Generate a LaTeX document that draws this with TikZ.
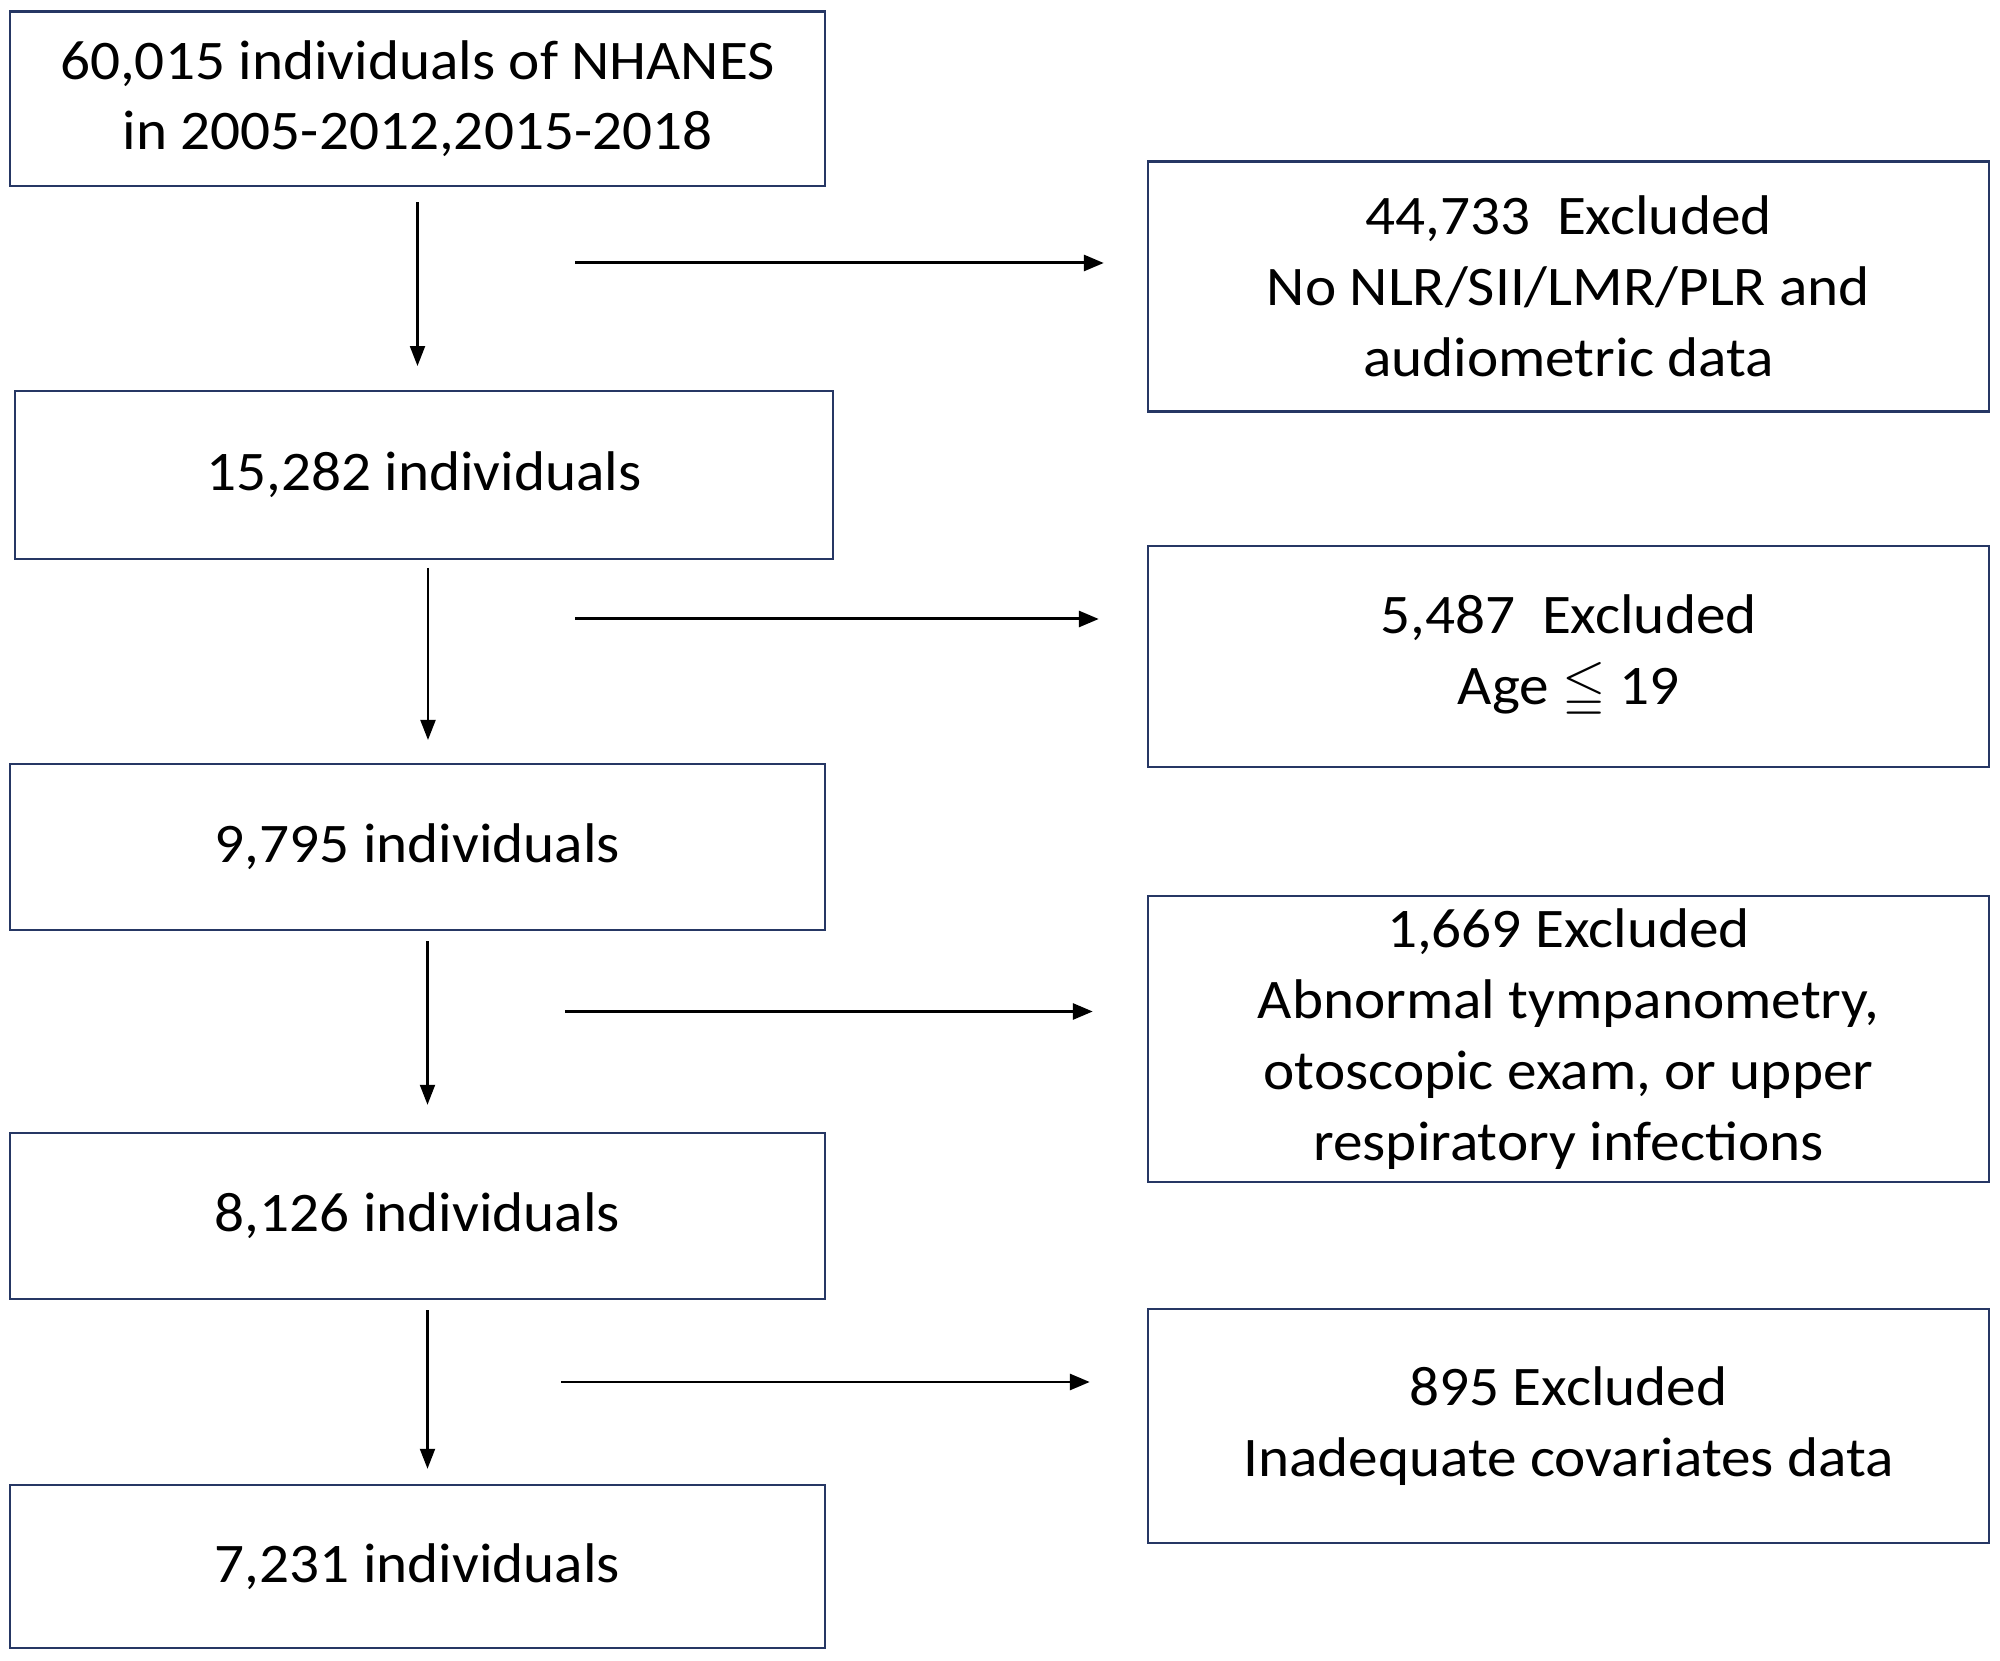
\documentclass[tikz,border=0pt]{standalone}
\usepackage{fontspec}
\usepackage{amssymb}
\setmainfont{Carlito}[FakeStretch=1.06]
\usetikzlibrary{positioning, arrows.meta, calc}

\definecolor{boxnavy}{RGB}{38,55,100}

\begin{document}
\begin{tikzpicture}[
    stage/.style={rectangle, draw=boxnavy, line width=0.7pt, minimum width=8.15cm, align=center, font=\fontsize{15.9}{19.8}\selectfont},
    excl/.style={rectangle, draw=boxnavy, line width=0.7pt, minimum width=8.41cm, align=center, font=\fontsize{15.9}{20.2}\selectfont},
    flow/.style={draw, line width=0.6pt, -{Triangle[length=0.2cm, width=0.15cm]}},
    side/.style={draw, line width=0.85pt, -{Triangle[length=0.2cm, width=0.16cm]}}
]
    \useasboundingbox (0,0) rectangle (20,-16.61);

    % Cohort
    \node[stage, minimum height=1.745cm] (total) at (4.175, -0.9875) {60,015 individuals of NHANES\\in 2005-2012,2015-2018};
    \node[stage, minimum width=8.18cm, minimum height=1.675cm] (afterlab) at (4.24, -4.75) {15,282 individuals};
    \node[stage, minimum height=1.656cm] (adults) at (4.175, -8.47) {9,795 individuals};
    \node[stage, minimum height=1.66cm] (normear) at (4.175, -12.16) {8,126 individuals};
    \node[stage, minimum height=1.63cm] (final) at (4.175, -15.665) {7,231 individuals};

    % Exclusions
    \node[excl, minimum height=2.50cm] (exlab) at (15.685, -2.865) {44,733~~Excluded\\No NLR/SII/LMR/PLR and\\audiometric data};
    \node[excl, minimum height=2.21cm] (exage) at (15.685, -6.565) {5,487~~Excluded\\Age $\leqq$ 19};
    \node[excl, minimum height=2.865cm] (exear) at (15.685, -10.39) {1,669 Excluded\\Abnormal tympanometry,\\otoscopic exam, or upper\\respiratory infections};
    \node[excl, minimum height=2.34cm] (excov) at (15.685, -14.26) {895 Excluded\\Inadequate covariates data};

    % Side arrow starts
    \coordinate (s1) at (5.75, -2.63);
    \coordinate (s2) at (5.75, -6.19);
    \coordinate (s3) at (5.65, -10.115);
    \coordinate (s4) at (5.61, -13.82);

    % Lines
    \draw[flow, shorten <=0.15cm, shorten >=0.24cm] (total.south) -- (total.south |- afterlab.north);
    \draw[flow, shorten <=0.08cm, shorten >=0.23cm] ([xshift=0.4mm]afterlab.south) -- ([xshift=0.4mm]afterlab.south |- adults.north);
    \draw[flow, shorten <=0.10cm, shorten >=0.27cm] ([xshift=1mm]adults.south) -- ([xshift=1mm]adults.south |- normear.north);
    \draw[flow, shorten <=0.10cm, shorten >=0.15cm] ([xshift=1mm]normear.south) -- ([xshift=1mm]normear.south |- final.north);

    \draw[side, shorten >=0.43cm] (s1) -- (s1 -| exlab.west);
    \draw[side, shorten >=0.48cm] (s2) -- (s2 -| exage.west);
    \draw[side, shorten >=0.54cm] (s3) -- (s3 -| exear.west);
    \draw[side, shorten >=0.57cm] (s4) -- (s4 -| excov.west);

\end{tikzpicture}
\end{document}
